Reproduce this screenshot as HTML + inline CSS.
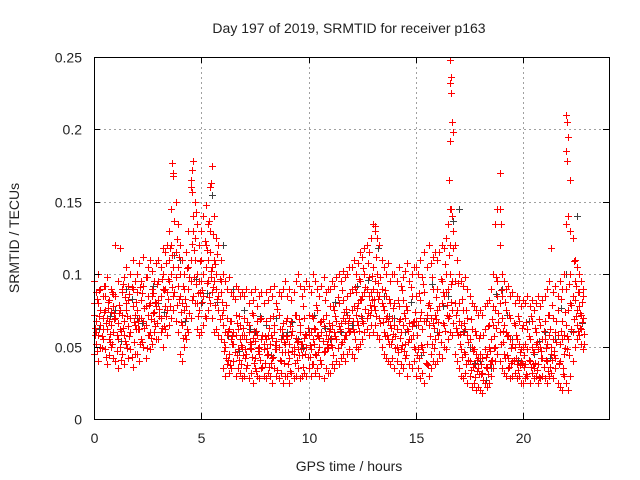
<!DOCTYPE html>
<html><head><meta charset="utf-8"><style>
html,body{margin:0;padding:0;background:#fff;}
svg{display:block;font-family:"Liberation Sans",Arial,sans-serif;}
</style></head><body>
<svg id="chart" width="640" height="480" viewBox="0 0 640 480" xmlns="http://www.w3.org/2000/svg">
<rect width="640" height="480" fill="#fff"/>
<text x="349" y="33" text-anchor="middle" font-size="14" fill="#222">Day 197 of 2019, SRMTID for receiver p163</text>
<text x="349" y="471" text-anchor="middle" font-size="14" fill="#222">GPS time / hours</text>
<text transform="translate(19,238) rotate(-90)" text-anchor="middle" font-size="14" fill="#222">SRMTID / TECUs</text>
<g id="grid"></g>
<g id="gray"></g>
<g id="red"></g>
<g id="axes"></g>
</svg>
<script>
const xTicks=[0,5,10,15,20];
const yTicks=[0,0.05,0.1,0.15,0.2,0.25];
const yTickLabels=["0","0.05","0.1","0.15","0.2","0.25"];
const v1=[.072,.068,.080,.065,.070,.075,.062,.068,.074,.060,
.070,.066,.075,.072,.068,.080,.064,.070,.078,.072,
.075,.070,.082,.068,.078,.072,.080,.085,.074,.078,
.082,.085,.090,.078,.088,.095,.100,.105,.098,.092,
.085,.080,.075,.078,.090,.110,.130,.125,.100,.095,
.095,.100,.105,.110,.115,.105,.095,.090,.085,.088,
.065,.060,.058,.062,.055,.060,.058,.062,.055,.058,
.058,.055,.060,.052,.056,.054,.058,.050,.055,.052,
.055,.058,.052,.056,.060,.054,.050,.055,.058,.052,
.055,.052,.058,.050,.056,.054,.060,.052,.056,.058,
.058,.060,.055,.062,.058,.056,.060,.064,.058,.055,
.062,.065,.060,.068,.064,.066,.070,.068,.072,.070,
.075,.078,.072,.080,.082,.085,.088,.090,.085,.088,
.090,.095,.088,.085,.080,.075,.070,.068,.065,.070,
.065,.062,.068,.060,.065,.070,.062,.066,.064,.068,
.068,.065,.070,.062,.068,.072,.065,.070,.066,.072,
.075,.078,.080,.085,.088,.090,.100,.095,.080,.075,
.068,.065,.060,.062,.058,.055,.050,.048,.045,.042,
.045,.042,.048,.045,.050,.055,.065,.075,.085,.080,
.070,.065,.060,.058,.055,.052,.050,.055,.052,.048,
.050,.052,.048,.055,.050,.046,.052,.048,.050,.055,
.055,.052,.058,.050,.055,.060,.058,.052,.055,.058,
.065,.075,.080,.085,.082,.075,.078,.072,.070];
const v2=[.095,.088,.100,.090,.085,.092,.098,.082,.090,.086,
.120,.095,.118,.090,.098,.105,.092,.100,.110,.095,
.100,.108,.095,.112,.098,.105,.110,.102,.095,.108,
.110,.105,.118,.115,.120,.130,.145,.170,.150,.135,
.120,.110,.100,.115,.130,.160,.178,.150,.135,.120,
.130,.140,.148,.135,.160,.175,.140,.125,.120,.110,
.100,.095,.090,.098,.088,.085,.092,.090,.085,.088,
.085,.090,.080,.088,.082,.090,.078,.085,.088,.080,
.088,.082,.090,.085,.092,.080,.088,.085,.090,.095,
.085,.090,.082,.088,.095,.100,.092,.085,.090,.095,
.092,.088,.100,.095,.090,.085,.092,.098,.088,.090,
.090,.095,.092,.098,.100,.095,.102,.098,.100,.105,
.105,.110,.100,.108,.115,.112,.118,.120,.115,.125,
.135,.130,.125,.120,.110,.105,.100,.108,.095,.100,
.100,.095,.105,.092,.098,.102,.108,.095,.100,.105,
.105,.100,.110,.098,.115,.105,.120,.108,.112,.115,
.110,.115,.120,.118,.125,.135,.145,.140,.120,.110,
.100,.095,.092,.098,.090,.085,.080,.078,.075,.072,
.075,.072,.078,.080,.082,.090,.100,.135,.145,.120,
.100,.095,.090,.092,.085,.088,.080,.085,.082,.078,
.082,.080,.085,.078,.082,.075,.080,.085,.078,.082,
.085,.090,.095,.118,.088,.092,.085,.095,.090,.100,
.135,.140,.130,.125,.110,.105,.100,.095,.090];
const v3=[.045,.052,.040,.050,.055,.048,.038,.044,.050,.042,
.040,.035,.050,.045,.038,.052,.042,.048,.036,.045,
.045,.040,.055,.050,.042,.058,.048,.052,.060,.055,
.055,.060,.050,.062,.058,.065,.070,.075,.068,.060,
.045,.040,.050,.055,.060,.070,.085,.080,.062,.058,
.060,.065,.070,.075,.080,.070,.060,.062,.058,.055,
.035,.030,.038,.032,.035,.040,.030,.035,.032,.028,
.030,.035,.028,.032,.025,.035,.030,.028,.035,.030,
.028,.032,.030,.025,.035,.030,.028,.032,.025,.030,
.030,.025,.032,.028,.030,.035,.028,.030,.032,.030,
.035,.030,.038,.032,.035,.030,.038,.028,.035,.032,
.032,.038,.035,.040,.038,.042,.045,.040,.045,.048,
.045,.042,.050,.048,.052,.055,.060,.062,.058,.065,
.060,.065,.058,.055,.050,.045,.042,.040,.038,.042,
.035,.040,.032,.038,.035,.042,.030,.038,.035,.040,
.030,.035,.028,.032,.025,.038,.030,.035,.040,.038,
.040,.045,.042,.050,.048,.055,.060,.058,.045,.040,
.035,.030,.028,.032,.025,.030,.022,.025,.020,.022,
.020,.018,.025,.022,.025,.030,.035,.040,.045,.040,
.035,.032,.030,.035,.028,.030,.032,.028,.030,.025,
.025,.028,.030,.025,.032,.028,.030,.025,.028,.030,
.028,.025,.030,.032,.028,.035,.025,.022,.020,.030,
.025,.020,.030,.040,.050,.055,.058,.052,.048];
const v4=[.080,.060,.058,.075,.062,.085,.070,.055,.065,.078,
.085,.055,.062,.088,.058,.075,.082,.060,.090,.065,
.088,.062,.070,.092,.065,.085,.060,.090,.068,.080,
.095,.070,.100,.090,.075,.110,.120,.085,.115,.105,
.100,.065,.090,.070,.105,.095,.140,.110,.080,.075,
.110,.085,.120,.095,.130,.088,.110,.100,.075,.095,
.075,.050,.070,.045,.068,.052,.072,.048,.065,.050,
.070,.045,.065,.048,.072,.042,.068,.045,.070,.048,
.068,.045,.070,.042,.065,.048,.072,.040,.066,.046,
.070,.042,.068,.045,.072,.048,.065,.044,.070,.050,
.072,.048,.070,.045,.075,.050,.068,.046,.072,.050,
.078,.050,.075,.055,.080,.052,.082,.058,.085,.060,
.090,.060,.088,.065,.095,.068,.100,.070,.098,.075,
.105,.075,.100,.070,.090,.060,.085,.055,.080,.055,
.080,.050,.078,.048,.082,.052,.075,.055,.085,.050,
.085,.048,.082,.050,.088,.052,.080,.045,.090,.055,
.090,.060,.095,.065,.100,.070,.120,.075,.095,.060,
.080,.048,.075,.045,.070,.040,.062,.038,.058,.035,
.058,.032,.062,.035,.065,.040,.078,.050,.095,.060,
.085,.045,.075,.042,.070,.040,.065,.038,.068,.040,
.065,.038,.062,.040,.068,.035,.060,.038,.065,.042,
.068,.040,.072,.045,.070,.042,.075,.040,.068,.045,
.090,.055,.100,.060,.095,.065,.088,.062,.085];
const v5=[.058,.083,.071,.049,.092,.066,.077,.053,.088,.069,
.047,.079,.061,.093,.054,.071,.086,.043,.067,.081,
.062,.091,.053,.077,.098,.058,.069,.087,.064,.093,
.071,.097,.064,.108,.083,.118,.091,.137,.079,.112,
.067,.092,.058,.104,.073,.121,.098,.143,.087,.109,
.081,.123,.094,.137,.102,.128,.079,.114,.097,.072,
.047,.079,.041,.068,.052,.083,.044,.071,.038,.063,
.042,.067,.049,.073,.039,.061,.047,.069,.036,.057,
.044,.063,.039,.071,.048,.076,.041,.062,.053,.068,
.038,.064,.047,.072,.041,.069,.052,.078,.045,.063,
.043,.071,.052,.079,.046,.067,.054,.082,.049,.066,
.051,.078,.057,.084,.061,.089,.055,.076,.063,.087,
.062,.091,.068,.097,.071,.104,.076,.108,.072,.099,
.078,.112,.083,.098,.067,.089,.058,.083,.052,.077,
.049,.082,.056,.089,.047,.078,.053,.091,.058,.074,
.044,.087,.051,.093,.039,.079,.057,.098,.049,.084,
.058,.097,.066,.107,.072,.113,.081,.118,.063,.094,
.052,.083,.046,.075,.041,.069,.036,.061,.033,.056,
.031,.058,.036,.064,.038,.069,.049,.098,.067,.089,
.053,.081,.044,.072,.039,.066,.042,.071,.037,.063,
.036,.067,.041,.071,.038,.063,.034,.069,.042,.061,
.041,.072,.036,.079,.044,.068,.039,.083,.035,.074,
.048,.093,.062,.109,.071,.088,.063,.081,.059];
const v6=[.063,.047,.089,.057,.074,.043,.081,.059,.052,.073,
.058,.073,.041,.063,.084,.049,.057,.091,.053,.062,
.068,.052,.087,.063,.049,.079,.056,.073,.081,.066,
.076,.063,.089,.071,.097,.078,.113,.088,.124,.083,
.074,.056,.083,.062,.098,.082,.117,.093,.071,.088,
.089,.071,.117,.084,.098,.091,.107,.083,.069,.081,
.053,.042,.061,.037,.057,.046,.066,.041,.051,.044,
.048,.037,.053,.043,.061,.033,.049,.041,.058,.039,
.049,.036,.058,.043,.051,.034,.062,.046,.039,.057,
.046,.033,.061,.039,.053,.044,.048,.036,.059,.043,
.051,.038,.063,.044,.057,.041,.069,.047,.052,.061,
.056,.044,.071,.049,.062,.053,.074,.058,.066,.061,
.068,.055,.077,.061,.083,.066,.091,.073,.079,.082,
.083,.071,.094,.066,.078,.057,.071,.052,.063,.059,
.057,.046,.069,.051,.073,.044,.061,.055,.067,.048,
.058,.042,.074,.046,.068,.037,.077,.052,.063,.069,
.067,.053,.088,.061,.079,.071,.093,.066,.072,.058,
.059,.043,.066,.038,.053,.034,.047,.029,.041,.031,
.038,.027,.043,.031,.047,.041,.057,.063,.073,.052,
.061,.042,.057,.036,.049,.041,.058,.034,.046,.039,
.044,.031,.057,.036,.046,.039,.053,.029,.047,.036,
.049,.033,.062,.041,.047,.053,.038,.061,.031,.049,
.057,.044,.079,.069,.092,.061,.073,.067,.052];
const spikeTimes=[16.6,16.62,16.58,16.65,16.7,16.72,16.6,16.55,16.65,16.75,3.65,3.7,4.55,4.5,4.55,5.45,18.9,18.9,18.95,22.0,22.05,22.1,22.0,22.05,22.2,13.0,13.1];
const spikeValues=[.248,.236,.232,.225,.205,.198,.192,.165,.145,.130,.177,.168,.172,.165,.157,.163,.170,.145,.135,.210,.205,.195,.185,.178,.165,.135,.133];
const grayTimes=[0,0.5,1,1.5,2,2.5,3,3.5,4,4.5,5,5.5,6,6.5,7,7.5,8,8.5,9,9.5,10,10.5,11,11.5,12,12.5,13,13.5,14,14.5,15,15.5,16,16.5,17,17.5,18,18.5,19,19.5,20,20.5,21,21.5,22,22.5];
const grayValues=[.095,.085,.075,.090,.070,.085,.080,.095,.110,.160,.080,.155,.120,.090,.075,.060,.065,.070,.060,.055,.060,.050,.055,.060,.065,.070,.090,.085,.070,.060,.065,.070,.060,.085,.145,.050,.040,.035,.090,.055,.050,.045,.060,.055,.100,.140];
const grayTimes2=[0.25,0.75,1.25,1.75,2.25,2.75,3.25,3.75,4.25,4.75,5.25,5.75,6.25,6.75,7.25,7.75,8.25,8.75,9.25,9.75,10.25,10.75,11.25,11.75,12.25,12.75,13.25,13.75,14.25,14.75,15.25,15.75,16.25,16.75,17.25,17.75,18.25,18.75,19.25,19.75,20.25,20.75,21.25,21.75,22.25,22.75];
const grayValues2=[.062,.071,.054,.083,.066,.092,.074,.113,.068,.097,.087,.081,.058,.047,.062,.071,.044,.058,.067,.049,.072,.063,.081,.074,.092,.096,.118,.071,.056,.081,.044,.093,.078,.137,.061,.039,.027,.086,.072,.041,.068,.054,.042,.077,.061,.066];

const X0=94,X1=609,Y0=419,Y1=57;
const xs=t=>X0+t/24*(X1-X0);
const ys=v=>Y0-v/0.25*(Y0-Y1);
const NS="http://www.w3.org/2000/svg";
function mk(tag,attrs,parent){const e=document.createElementNS(NS,tag);for(const k in attrs)e.setAttribute(k,attrs[k]);parent.appendChild(e);return e;}
const grid=document.getElementById('grid'),axes=document.getElementById('axes');
const red=document.getElementById('red'),gray=document.getElementById('gray');
xTicks.forEach(t=>{
  const x=Math.round(xs(t))+0.5;
  if(t>0){const g=mk('line',{x1:x,x2:x,y1:Y1,y2:Y0,stroke:'#a0a0a0','stroke-dasharray':'2,3'},grid);
  
  }
  const a=mk('line',{x1:x,x2:x,y1:Y0,y2:Y0-6,stroke:'#000'},axes);
  
  
  const b=mk('line',{x1:x,x2:x,y1:Y1,y2:Y1+6,stroke:'#000'},axes);
  
  
  const l=mk('text',{x:x,y:Y0+24,'text-anchor':'middle','font-size':14,fill:'#222'},axes);
  l.textContent=String(t);
  
  
});
yTicks.forEach((v,i)=>{
  const y=Math.round(ys(v))+0.5;
  if(v>0&&v<0.25){const g=mk('line',{x1:X0,x2:X1,y1:y,y2:y,stroke:'#a0a0a0','stroke-dasharray':'2,3'},grid);
  
  }
  const a=mk('line',{x1:X0,x2:X0+6,y1:y,y2:y,stroke:'#000'},axes);
  
  
  const b=mk('line',{x1:X1,x2:X1-6,y1:y,y2:y,stroke:'#000'},axes);
  
  
  const l=mk('text',{x:X0-12,y:y+5,'text-anchor':'end','font-size':14,fill:'#222'},axes);
  l.textContent=yTickLabels[i];
  
  
});
const frame=mk('rect',{x:X0+0.5,y:Y1+0.5,width:X1-X0,height:Y0-Y1,fill:'none',stroke:'#000'},axes);


function plus(g,t,v,col,name){
  const x=Math.round(xs(t))+0.5,y=Math.round(ys(v))+0.5;
  const p=mk('path',{d:`M${x-3.5} ${y}H${x+3.5}M${x} ${y-3.5}V${y+3.5}`,stroke:col,'stroke-width':1,fill:'none'},g);
  
  
}
const n=Math.min(grayTimes.length,grayValues.length);
for(let i=0;i<n;i++)plus(gray,grayTimes[i],grayValues[i],'#404040','gray-point');
const n2=Math.min(grayTimes2.length,grayValues2.length);
for(let i=0;i<n2;i++)plus(gray,grayTimes2[i],grayValues2[i],'#404040','gray-point');
[v1,v2,v3,v4].forEach(arr=>arr.forEach((v,i)=>plus(red,i*0.1,v,'#ff0000','red-point')));
[v5,v6].forEach(arr=>arr.forEach((v,i)=>plus(red,i*0.1+0.05,v,'#ff0000','red-point')));
spikeTimes.forEach((t,i)=>plus(red,t,spikeValues[i],'#ff0000','red-spike-point'));
</script>
</body></html>
